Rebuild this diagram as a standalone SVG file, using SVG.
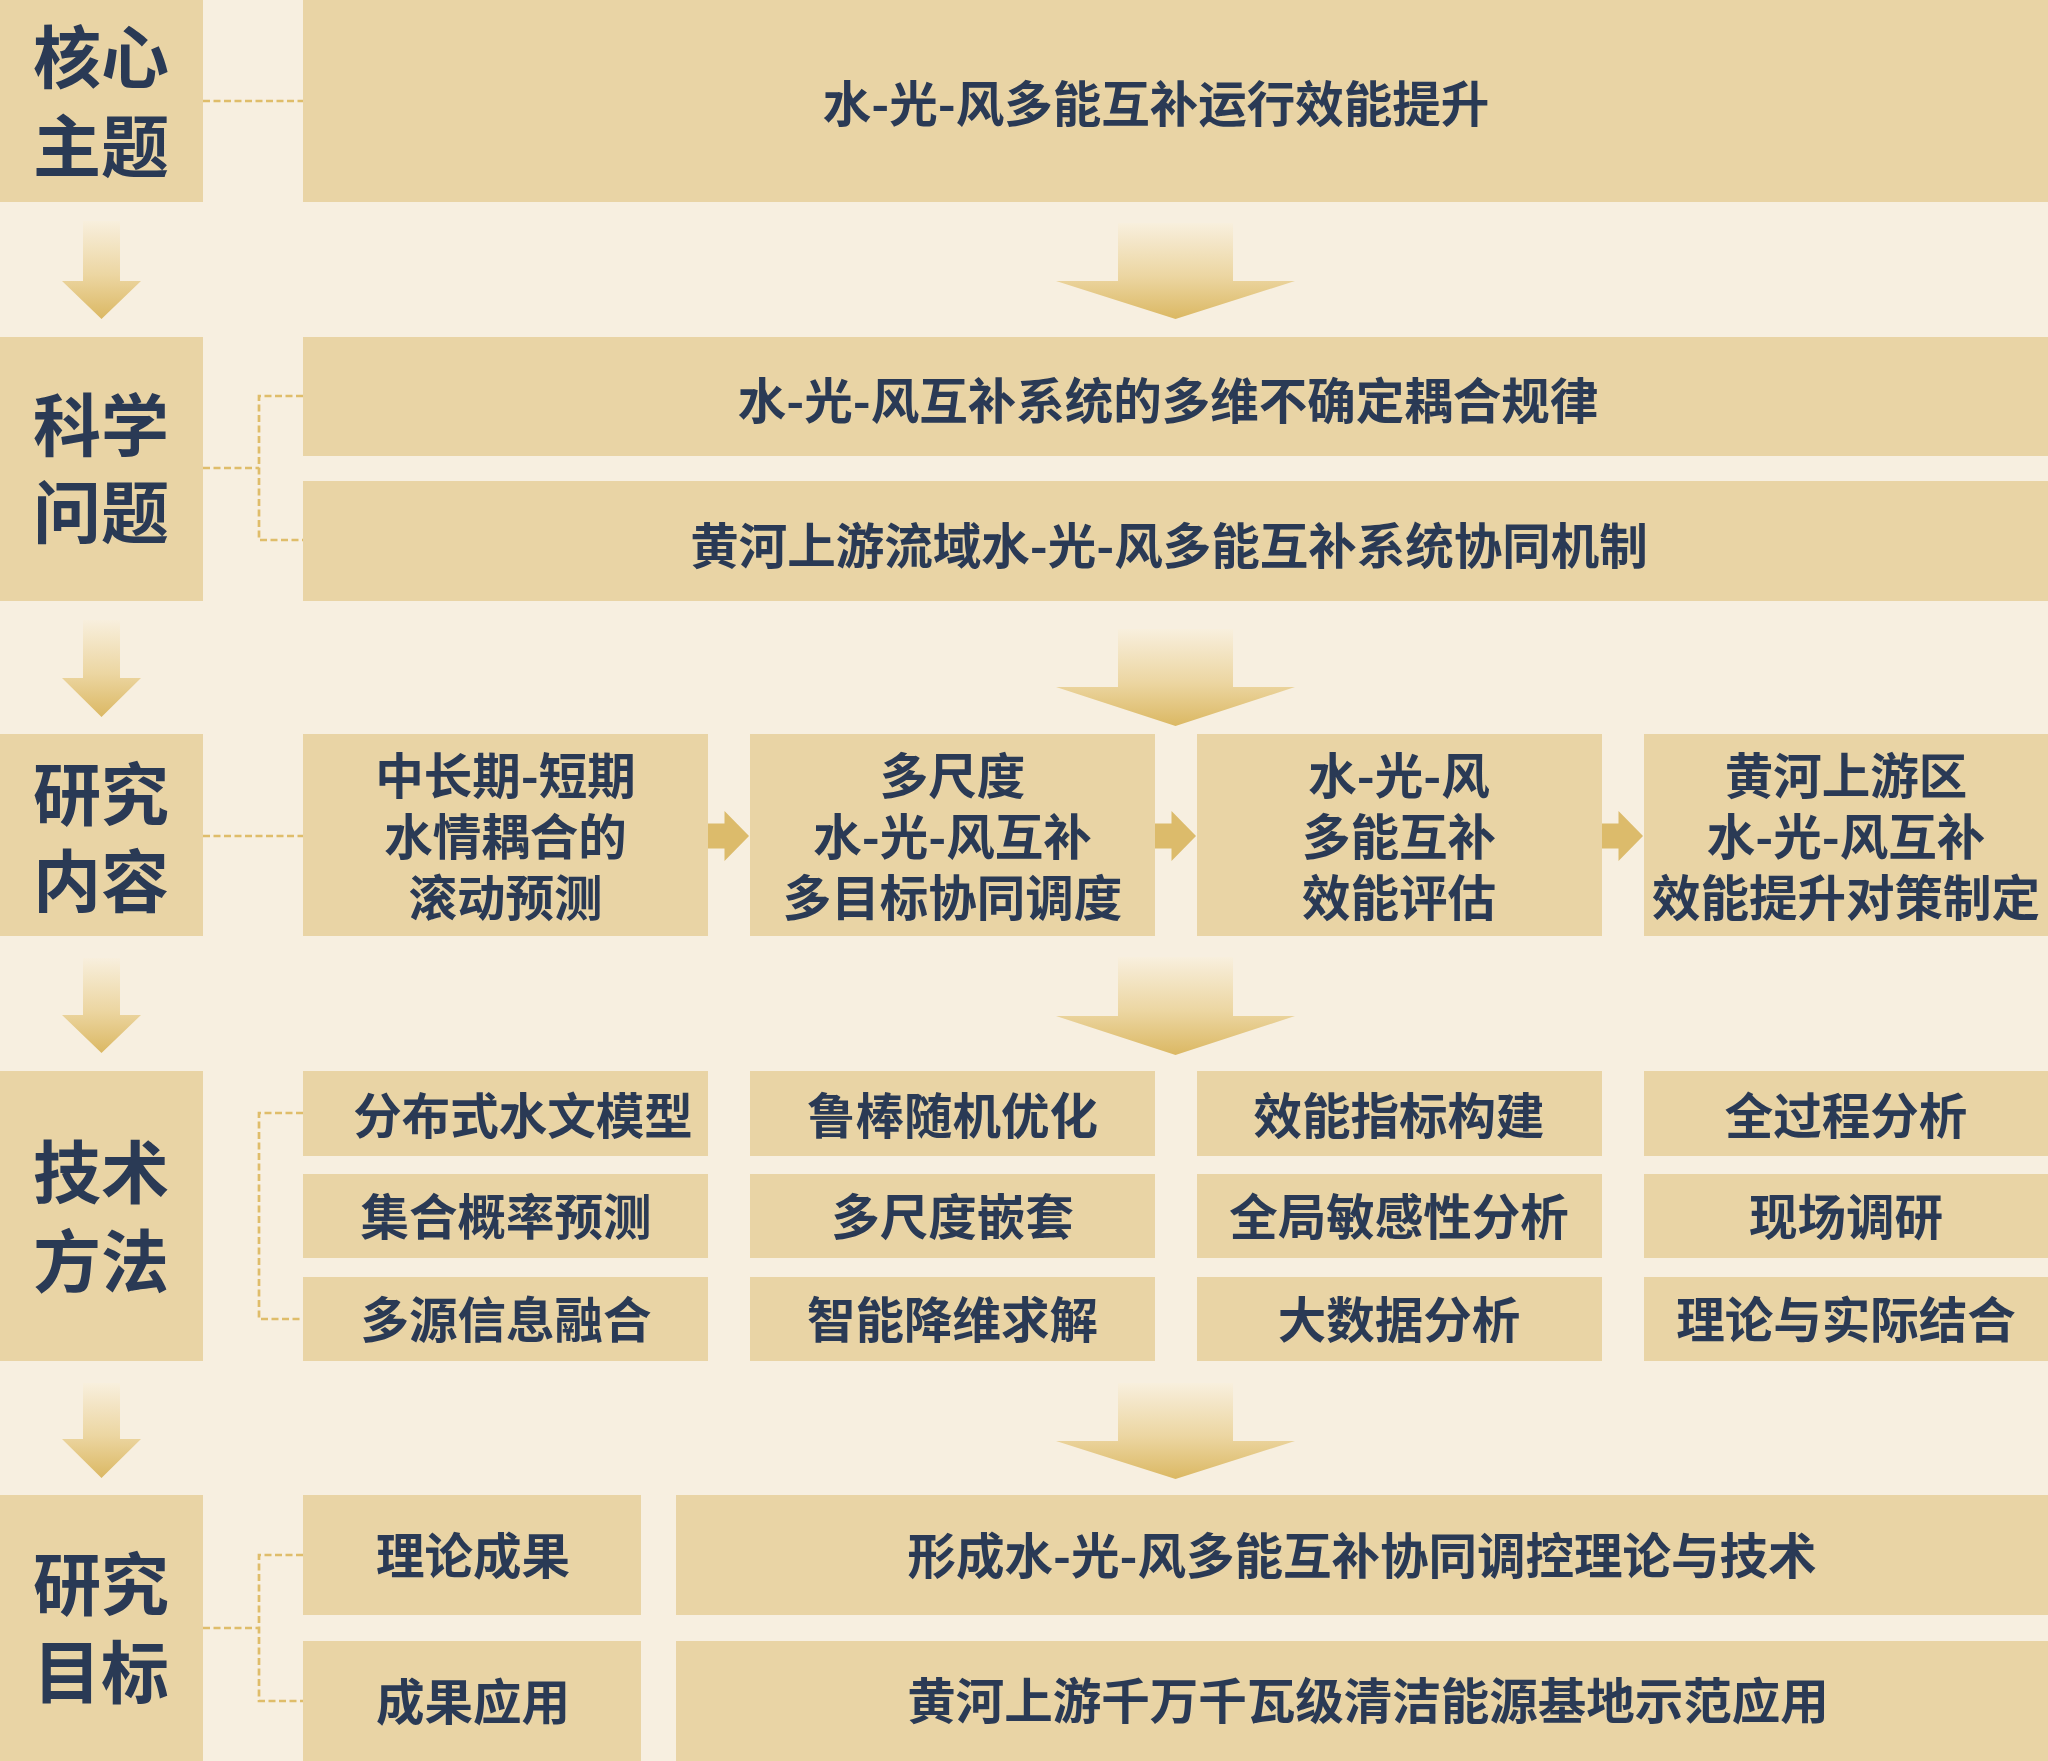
<svg xmlns="http://www.w3.org/2000/svg" width="2048" height="1761" viewBox="0 0 2048 1761">
<defs>
<linearGradient id="ag" x1="0" y1="0" x2="0" y2="1">
<stop offset="0" stop-color="#f8efdd"/>
<stop offset="0.55" stop-color="#ecd6a2"/>
<stop offset="1" stop-color="#dbb863"/>
</linearGradient>
</defs>
<style>
.bg{fill:#f7efe0}
.box{fill:#e9d4a5}
.lab{font-family:"Noto Sans CJK SC","Noto Sans CJK JP",sans-serif;font-weight:700;font-size:68px;fill:#2a3a55;text-anchor:middle}
.t{font-family:"Noto Sans CJK SC","Noto Sans CJK JP",sans-serif;font-weight:700;font-size:48.5px;fill:#2a3a55;text-anchor:middle}
.dash{fill:none;stroke:#dfbd6a;stroke-width:2.7;stroke-dasharray:7 3.5}
.va{fill:url(#ag)}
.ha{fill:#dcbb6b}
</style>
<rect class="bg" x="0" y="0" width="2048" height="1761"/>

<g id="connectors">
<path class="dash" d="M203,101H303"/>
<path class="dash" d="M203,468H259M303,396H259V540H303"/>
<path class="dash" d="M203,836H303"/>
<path class="dash" d="M303,1113H259V1319H303"/>
<path class="dash" d="M203,1628H259M303,1555H259V1701H303"/>
<polygon class="va" points="83,221 120,221 120,281 141,281 101.5,319 62,281 83,281"/>
<polygon class="va" points="83,620 120,620 120,678 141,678 101.5,717 62,678 83,678"/>
<polygon class="va" points="83,958 120,958 120,1015 141,1015 101.5,1053 62,1015 83,1015"/>
<polygon class="va" points="83,1383 120,1383 120,1439 141,1439 101.5,1478 62,1439 83,1439"/>
<polygon class="va" points="1118,223 1233,223 1233,281 1295,281 1175.5,319 1056,281 1118,281"/>
<polygon class="va" points="1118,629 1233,629 1233,687 1295,687 1175.5,726 1056,687 1118,687"/>
<polygon class="va" points="1118,957 1233,957 1233,1016 1295,1016 1175.5,1055 1056,1016 1118,1016"/>
<polygon class="va" points="1118,1383 1233,1383 1233,1441 1295,1441 1175.5,1479 1056,1441 1118,1441"/>
<polygon class="ha" points="708,823.5 724.5,823.5 724.5,811 749,836 724.5,861 724.5,848.5 708,848.5"/>
<polygon class="ha" points="1155,823.5 1171.5,823.5 1171.5,811 1196,836 1171.5,861 1171.5,848.5 1155,848.5"/>
<polygon class="ha" points="1602,823.5 1618.5,823.5 1618.5,811 1643,836 1618.5,861 1618.5,848.5 1602,848.5"/>
</g>

<g id="label-core"><rect class="box" x="0" y="0" width="203" height="202"/><text class="lab"><tspan x="101" y="83">核心</tspan><tspan x="101" y="172">主题</tspan></text></g>
<g id="core-theme"><rect class="box" x="303" y="0" width="1745" height="202"/><text class="t" x="1156" y="121.5">水-光-风多能互补运行效能提升</text></g>

<g id="label-science"><rect class="box" x="0" y="337" width="203" height="264"/><text class="lab"><tspan x="101" y="451">科学</tspan><tspan x="101" y="538">问题</tspan></text></g>
<g id="sci-1"><rect class="box" x="303" y="337" width="1745" height="119"/><text class="t" x="1168" y="419">水-光-风互补系统的多维不确定耦合规律</text></g>
<g id="sci-2"><rect class="box" x="303" y="481" width="1745" height="120"/><text class="t" x="1169" y="564">黄河上游流域水-光-风多能互补系统协同机制</text></g>

<g id="label-content"><rect class="box" x="0" y="734" width="203" height="202"/><text class="lab"><tspan x="101" y="820">研究</tspan><tspan x="101" y="907">内容</tspan></text></g>
<g id="content-1"><rect class="box" x="303" y="734" width="405" height="202"/><text class="t"><tspan x="505.5" y="794">中长期-短期</tspan><tspan x="505.5" y="855">水情耦合的</tspan><tspan x="505.5" y="916">滚动预测</tspan></text></g>
<g id="content-2"><rect class="box" x="750" y="734" width="405" height="202"/><text class="t"><tspan x="952.5" y="794">多尺度</tspan><tspan x="952.5" y="855">水-光-风互补</tspan><tspan x="952.5" y="916">多目标协同调度</tspan></text></g>
<g id="content-3"><rect class="box" x="1197" y="734" width="405" height="202"/><text class="t"><tspan x="1399" y="794">水-光-风</tspan><tspan x="1399" y="855">多能互补</tspan><tspan x="1399" y="916">效能评估</tspan></text></g>
<g id="content-4"><rect class="box" x="1644" y="734" width="404" height="202"/><text class="t"><tspan x="1846" y="794">黄河上游区</tspan><tspan x="1846" y="855">水-光-风互补</tspan><tspan x="1846" y="916">效能提升对策制定</tspan></text></g>

<g id="label-method"><rect class="box" x="0" y="1071" width="203" height="290"/><text class="lab"><tspan x="101" y="1198">技术</tspan><tspan x="101" y="1287">方法</tspan></text></g>
<g id="m-1-1"><rect class="box" x="303" y="1071" width="405" height="85"/><text class="t" x="523" y="1133.5">分布式水文模型</text></g>
<g id="m-1-2"><rect class="box" x="303" y="1174" width="405" height="84"/><text class="t" x="506" y="1234.5">集合概率预测</text></g>
<g id="m-1-3"><rect class="box" x="303" y="1277" width="405" height="84"/><text class="t" x="506" y="1337.5">多源信息融合</text></g>
<g id="m-2-1"><rect class="box" x="750" y="1071" width="405" height="85"/><text class="t" x="952.5" y="1133.5">鲁棒随机优化</text></g>
<g id="m-2-2"><rect class="box" x="750" y="1174" width="405" height="84"/><text class="t" x="952.5" y="1234.5">多尺度嵌套</text></g>
<g id="m-2-3"><rect class="box" x="750" y="1277" width="405" height="84"/><text class="t" x="952.5" y="1337.5">智能降维求解</text></g>
<g id="m-3-1"><rect class="box" x="1197" y="1071" width="405" height="85"/><text class="t" x="1399" y="1133.5">效能指标构建</text></g>
<g id="m-3-2"><rect class="box" x="1197" y="1174" width="405" height="84"/><text class="t" x="1399" y="1234.5">全局敏感性分析</text></g>
<g id="m-3-3"><rect class="box" x="1197" y="1277" width="405" height="84"/><text class="t" x="1399" y="1337.5">大数据分析</text></g>
<g id="m-4-1"><rect class="box" x="1644" y="1071" width="404" height="85"/><text class="t" x="1846" y="1133.5">全过程分析</text></g>
<g id="m-4-2"><rect class="box" x="1644" y="1174" width="404" height="84"/><text class="t" x="1846" y="1234.5">现场调研</text></g>
<g id="m-4-3"><rect class="box" x="1644" y="1277" width="404" height="84"/><text class="t" x="1846" y="1337.5">理论与实际结合</text></g>

<g id="label-goal"><rect class="box" x="0" y="1495" width="203" height="266"/><text class="lab"><tspan x="101" y="1610">研究</tspan><tspan x="101" y="1698">目标</tspan></text></g>
<g id="goal-theory"><rect class="box" x="303" y="1495" width="338" height="120"/><text class="t" x="473" y="1573.5">理论成果</text></g>
<g id="goal-theory-desc"><rect class="box" x="676" y="1495" width="1372" height="120"/><text class="t" x="1362" y="1574">形成水-光-风多能互补协同调控理论与技术</text></g>
<g id="goal-app"><rect class="box" x="303" y="1641" width="338" height="120"/><text class="t" x="473" y="1720">成果应用</text></g>
<g id="goal-app-desc"><rect class="box" x="676" y="1641" width="1372" height="120"/><text class="t" x="1368" y="1719">黄河上游千万千瓦级清洁能源基地示范应用</text></g>
</svg>
